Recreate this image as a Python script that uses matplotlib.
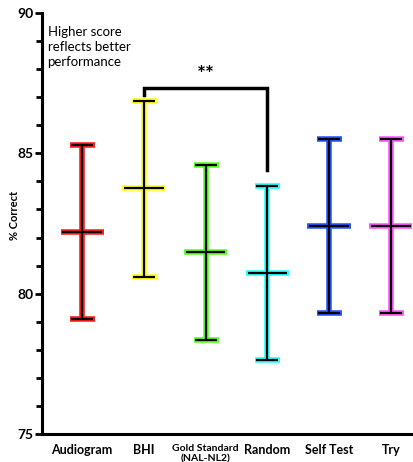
import matplotlib
matplotlib.use("Agg")
import matplotlib.pyplot as plt
from matplotlib.ticker import MultipleLocator

# values
groups = ["Audiogram", "BHI", "Gold Standard\n(NAL-NL2)", "Random", "Self Test", "Try"]
means = [82.2, 83.75, 81.5, 80.75, 82.4, 82.4]
upper = [85.3, 86.85, 84.6, 83.85, 85.5, 85.5]
lower = [79.1, 80.6, 78.35, 77.65, 79.3, 79.3]
colors = ["#ff1a1a", "#ffff1a", "#55ff22", "#22ffff", "#2255ff", "#ff55ff"]

plt.rcParams["font.family"] = ["Lato", "DejaVu Sans"]

fig = plt.figure(figsize=(4.13, 4.62), dpi=100)
ax = fig.add_axes([0.1017, 0.0606, 0.8983, 0.9113])

half_mean = 0.32
for i in range(len(groups)):
    err = [[means[i] - lower[i]], [upper[i] - means[i]]]
    # coloured halo underneath, black line on top
    ax.errorbar(i, means[i], yerr=err, color=colors[i], lw=4, capsize=9, capthick=4, zorder=2)
    ax.hlines(means[i], i - half_mean - 0.03, i + half_mean + 0.03, color=colors[i], lw=4, zorder=2)
    ax.errorbar(i, means[i], yerr=err, color="black", lw=1.6, capsize=8, capthick=1.6, zorder=3)
    ax.hlines(means[i], i - half_mean, i + half_mean, color="black", lw=1.6, zorder=3)

# significance bracket BHI vs Random
ax.plot([1, 1, 3, 3], [87.08, 87.33, 87.33, 84.4], color="black", lw=2.5,
        solid_joinstyle="miter", clip_on=False)
ax.text(2, 87.42, "**", ha="center", va="bottom", fontsize=15, fontweight="bold")

ax.text(-0.56, 89.55, "Higher score\nreflects better\nperformance", ha="left", va="top",
        fontsize=9.5, linespacing=1.3)

ax.set_xlim(-0.65, 5.36)
ax.set_ylim(75, 90)
ax.set_xticks(range(len(groups)))
ax.set_xticklabels(groups)
ax.yaxis.set_major_locator(MultipleLocator(5))
ax.yaxis.set_minor_locator(MultipleLocator(1))
ax.set_ylabel("% Correct", fontsize=8, fontweight="bold")
ax.yaxis.set_label_coords(-0.06, 0.52)

for lab in ax.get_xticklabels():
    lab.set_fontweight("bold")
    lab.set_fontsize(9)
    lab.set_va("top")
ax.get_xticklabels()[2].set_fontsize(7.5)
for lab in ax.get_yticklabels():
    lab.set_fontweight("bold")
    lab.set_fontsize(10)

ax.spines["top"].set_visible(False)
ax.spines["right"].set_visible(False)
ax.spines["left"].set_linewidth(2.2)
ax.spines["bottom"].set_linewidth(2.2)
ax.tick_params(axis="y", which="major", length=5, width=2, pad=1)
ax.tick_params(axis="y", which="minor", length=4, width=2)
ax.tick_params(axis="x", length=0, pad=7)

fig.savefig("out.png", dpi=100)
